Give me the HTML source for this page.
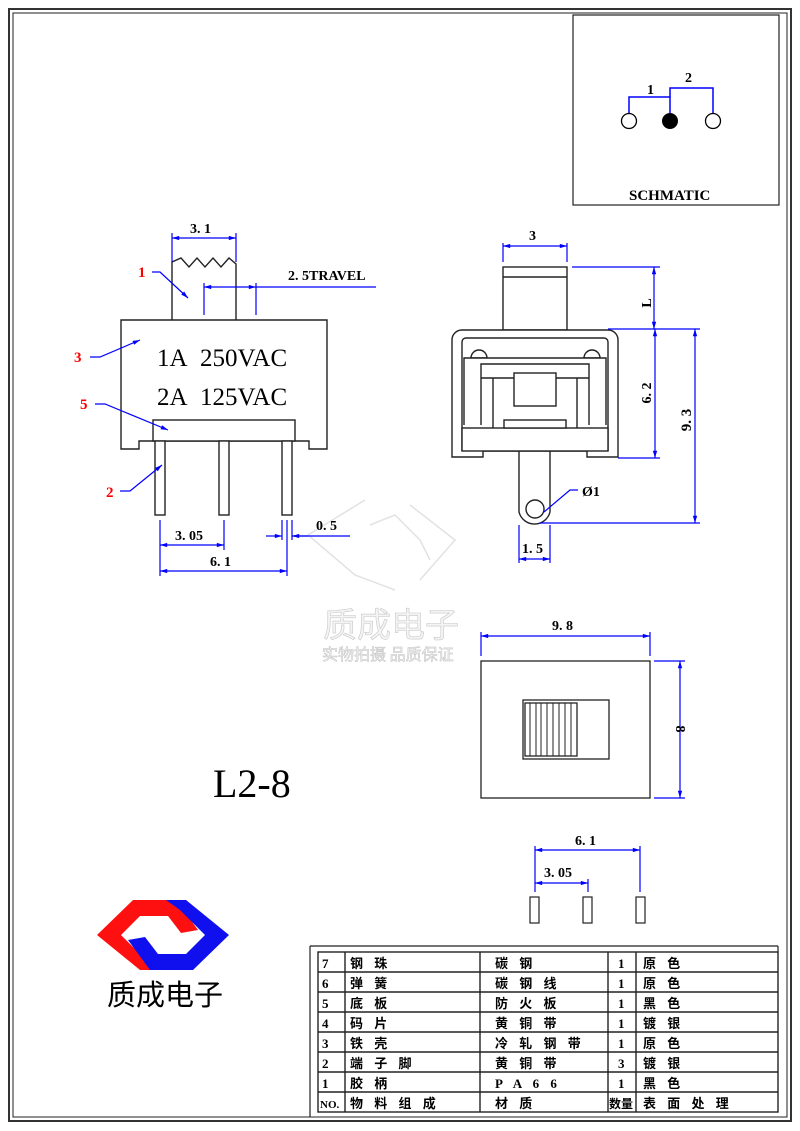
<!DOCTYPE html>
<html><head><meta charset="utf-8"><style>
html,body{margin:0;padding:0;background:#fff;}
svg{display:block;}
.s{font-family:"Liberation Serif","Noto Serif CJK SC",serif;font-weight:bold;}
.c{font-family:"Liberation Serif","Noto Sans CJK SC",serif;font-weight:bold;font-size:13px;}
</style></head><body>
<svg width="800" height="1131" viewBox="0 0 800 1131" xmlns="http://www.w3.org/2000/svg">
<defs>
<marker id="a" viewBox="0 0 10 10" refX="10" refY="5" markerWidth="8" markerHeight="6" orient="auto-start-reverse"><path d="M0,2 L10,5 L0,8z" fill="#0000ff"/></marker>
</defs>
<rect x="0" y="0" width="800" height="1131" fill="#fff"/>
<rect x="9" y="9" width="782" height="1112" fill="none" stroke="#333" stroke-width="2"/>
<rect x="13" y="13" width="774" height="1104" fill="none" stroke="#222" stroke-width="1"/>
<!-- schematic -->
<rect x="573" y="15" width="206" height="190" fill="none" stroke="#222" stroke-width="1.2"/>
<g stroke="#0000ff" stroke-width="1.5" fill="none">
<polyline points="629,113 629,97 670,97 670,113"/><polyline points="670,97 670,88 713,88 713,113"/>
</g>
<circle cx="629" cy="121" r="7.5" fill="#fff" stroke="#000" stroke-width="1.3"/>
<circle cx="670" cy="121" r="8" fill="#000"/>
<circle cx="713" cy="121" r="7.5" fill="#fff" stroke="#000" stroke-width="1.3"/>
<text x="647" y="94" class="s" font-size="14">1</text>
<text x="685" y="82" class="s" font-size="14">2</text>
<text x="629" y="200" class="s" font-size="15">SCHMATIC</text>

<!-- watermark -->
<g stroke="#e2e2e2" stroke-width="1.5" fill="none">
<path d="M365,500 L308,535 L355,575 L395,590"/><path d="M410,505 L455,540 L420,580"/><path d="M370,525 L395,515 L420,540 L430,560"/>
</g>
<text x="323" y="637" font-family="Noto Sans CJK SC,sans-serif" font-size="34" fill="#f4f4f4" stroke="#c8c8c8" stroke-width="0.6">质成电子</text>
<text x="322" y="660" font-family="Noto Sans CJK SC,sans-serif" font-size="16" fill="#f4f4f4" stroke="#c0c0c0" stroke-width="0.5">实物拍摄 品质保证</text>

<!-- left view -->
<g stroke="#222" stroke-width="1.4" fill="#fff">
<polyline points="172,320 172,262 181,258 189,267 197,258 205,267 213,258 221,267 229,258 236,264 236,320"/>
<path d="M121,320 H327 V449 H309 V441 H139 V449 H121 Z"/>
<rect x="153" y="420" width="142" height="21"/>
<rect x="155" y="441" width="10" height="74"/><rect x="219" y="441" width="10" height="74"/><rect x="282" y="441" width="10" height="74"/>
</g>
<text x="157" y="366" font-family="Liberation Serif,serif" font-size="25">1A&#160;&#160;250VAC</text>
<text x="157" y="405" font-family="Liberation Serif,serif" font-size="25">2A&#160;&#160;125VAC</text>
<g stroke="#0000ff" stroke-width="1.2" fill="none">
<line x1="172" y1="233" x2="172" y2="262"/><line x1="236" y1="233" x2="236" y2="262"/>
<line x1="172" y1="238" x2="236" y2="238" marker-start="url(#a)" marker-end="url(#a)"/>
<line x1="204" y1="283" x2="204" y2="315"/><line x1="256" y1="283" x2="256" y2="315"/>
<line x1="204" y1="287" x2="256" y2="287" marker-start="url(#a)" marker-end="url(#a)"/><line x1="256" y1="287" x2="376" y2="287"/>
<line x1="160" y1="520" x2="160" y2="576"/><line x1="224" y1="520" x2="224" y2="550"/><line x1="287" y1="520" x2="287" y2="576"/><line x1="282" y1="520" x2="282" y2="540"/><line x1="292" y1="520" x2="292" y2="540"/>
<line x1="160" y1="545" x2="224" y2="545" marker-start="url(#a)" marker-end="url(#a)"/>
<line x1="160" y1="571" x2="287" y2="571" marker-start="url(#a)" marker-end="url(#a)"/>
<line x1="266" y1="536" x2="282" y2="536" marker-end="url(#a)"/><line x1="308" y1="536" x2="292" y2="536" marker-end="url(#a)"/><line x1="292" y1="536" x2="350" y2="536"/>
<polyline points="152,272 160,272 188,298" marker-end="url(#a)"/>
<polyline points="90,357 100,357 140,340" marker-end="url(#a)"/>
<polyline points="95,404 105,404 168,430" marker-end="url(#a)"/>
<polyline points="120,491 130,491 162,465" marker-end="url(#a)"/>
</g>
<text x="190" y="233" class="s" font-size="14">3. 1</text>
<text x="288" y="280" class="s" font-size="14">2. 5TRAVEL</text>
<text x="175" y="540" class="s" font-size="14">3. 05</text>
<text x="210" y="566" class="s" font-size="14">6. 1</text>
<text x="316" y="530" class="s" font-size="14">0. 5</text>
<g class="s" font-size="15" fill="#f00"><text x="138" y="277">1</text><text x="74" y="362">3</text><text x="80" y="409">5</text><text x="106" y="497">2</text></g>

<!-- right view -->
<g stroke="#222" stroke-width="1.4" fill="#fff">
<rect x="503" y="267" width="64" height="63"/><line x1="503" y1="277" x2="567" y2="277"/>
<path d="M519,450 V512 A16,16 0 0 0 550,512 V450 Z"/>
<circle cx="535" cy="509" r="9"/>
<path d="M462,330 H608 A10,10 0 0 1 618,340 V457 H587 V451 H483 V457 H452 V340 A10,10 0 0 1 462,330 Z"/>
<path d="M462,451 V342 A4,4 0 0 1 466,338 H604 A4,4 0 0 1 608,342 V451"/>
<path d="M471,358 A8,8 0 0 1 487,358 Z"/><path d="M584,358 A8,8 0 0 1 600,358 Z"/>
<polyline points="464,425 464,358 606,358 606,425"/>
<rect x="462" y="428" width="146" height="23"/>
<polyline points="481,425 481,364 589,364 589,425"/>
<line x1="481" y1="378" x2="589" y2="378"/>
<line x1="493" y1="378" x2="493" y2="428"/><line x1="577" y1="378" x2="577" y2="428"/>
<rect x="514" y="373" width="42" height="33"/>
<rect x="504" y="420" width="62" height="8"/>
</g>
<g stroke="#0000ff" stroke-width="1.2" fill="none">
<line x1="503" y1="243" x2="503" y2="262"/><line x1="567" y1="243" x2="567" y2="262"/>
<line x1="503" y1="246" x2="567" y2="246" marker-start="url(#a)" marker-end="url(#a)"/>
<line x1="572" y1="267" x2="660" y2="267"/><line x1="608" y1="329" x2="700" y2="329"/><line x1="618" y1="458" x2="660" y2="458"/><line x1="540" y1="523" x2="700" y2="523"/>
<line x1="654" y1="267" x2="654" y2="329" marker-start="url(#a)" marker-end="url(#a)"/>
<line x1="655" y1="329" x2="655" y2="458" marker-start="url(#a)" marker-end="url(#a)"/>
<line x1="695" y1="329" x2="695" y2="523" marker-start="url(#a)" marker-end="url(#a)"/>
<polyline points="578,490 570,490 544,512"/>
<line x1="519" y1="525" x2="519" y2="563"/><line x1="550" y1="525" x2="550" y2="563"/>
<line x1="519" y1="559" x2="550" y2="559" marker-start="url(#a)" marker-end="url(#a)"/>
</g>
<text x="529" y="240" class="s" font-size="14">3</text>
<text x="582" y="496" class="s" font-size="14">Ø1</text>
<text x="522" y="553" class="s" font-size="14">1. 5</text>
<text transform="translate(651,303) rotate(-90)" class="s" font-size="14" text-anchor="middle">L</text>
<text transform="translate(651,393) rotate(-90)" class="s" font-size="14" text-anchor="middle">6. 2</text>
<text transform="translate(691,420) rotate(-90)" class="s" font-size="15" text-anchor="middle">9. 3</text>

<!-- bottom view -->
<g stroke="#222" stroke-width="1.3" fill="#fff">
<rect x="481" y="661" width="169" height="137"/>
<rect x="523" y="700" width="86" height="59"/>
<rect x="525" y="703" width="52" height="53"/>
</g>
<g stroke="#222" stroke-width="1">
<line x1="530" y1="703" x2="530" y2="756"/><line x1="536" y1="703" x2="536" y2="756"/><line x1="541" y1="703" x2="541" y2="756"/><line x1="547" y1="703" x2="547" y2="756"/><line x1="553" y1="703" x2="553" y2="756"/><line x1="559" y1="703" x2="559" y2="756"/><line x1="565" y1="703" x2="565" y2="756"/><line x1="571" y1="703" x2="571" y2="756"/>
</g>
<g stroke="#0000ff" stroke-width="1.2" fill="none">
<line x1="481" y1="632" x2="481" y2="656"/><line x1="650" y1="632" x2="650" y2="656"/>
<line x1="481" y1="636" x2="650" y2="636" marker-start="url(#a)" marker-end="url(#a)"/>
<line x1="654" y1="661" x2="685" y2="661"/><line x1="654" y1="798" x2="685" y2="798"/>
<line x1="680" y1="661" x2="680" y2="798" marker-start="url(#a)" marker-end="url(#a)"/>
<line x1="535" y1="846" x2="535" y2="892"/><line x1="640" y1="846" x2="640" y2="892"/><line x1="588" y1="879" x2="588" y2="892"/>
<line x1="535" y1="850" x2="640" y2="850" marker-start="url(#a)" marker-end="url(#a)"/>
<line x1="535" y1="883" x2="588" y2="883" marker-start="url(#a)" marker-end="url(#a)"/>
</g>
<text x="552" y="630" class="s" font-size="14">9. 8</text>
<text transform="translate(676,729) rotate(90)" class="s" font-size="14" text-anchor="middle">8</text>
<text x="575" y="845" class="s" font-size="14">6. 1</text>
<text x="544" y="877" class="s" font-size="14">3. 05</text>
<g stroke="#222" stroke-width="1.2" fill="#fff">
<rect x="530" y="897" width="9" height="26"/><rect x="583" y="897" width="9" height="26"/><rect x="636" y="897" width="9" height="26"/>
</g>

<text x="213" y="797" font-family="Liberation Serif,serif" font-size="40">L2-8</text>

<!-- logo -->
<path d="M97,935 L133,900 H176 L198,930 L181,933 L168,916 H140 L121,935 L146,960 L160,970 H140 Z" fill="#ff1010" stroke-linejoin="round"/>
<path d="M229,935 L193,970 H150 L128,940 L145,937 L158,954 H186 L205,935 L180,910 L166,900 H186 Z" fill="#1010ee"/>
<text x="107" y="1005" font-family="Noto Sans CJK SC,sans-serif" font-size="29">质成电子</text>

<!-- table -->
<g stroke="#222" stroke-width="1.4" fill="none">
<rect x="318" y="952" width="460" height="160"/>
<line x1="318" y1="972" x2="778" y2="972"/><line x1="318" y1="992" x2="778" y2="992"/><line x1="318" y1="1012" x2="778" y2="1012"/><line x1="318" y1="1032" x2="778" y2="1032"/><line x1="318" y1="1052" x2="778" y2="1052"/><line x1="318" y1="1072" x2="778" y2="1072"/><line x1="318" y1="1092" x2="778" y2="1092"/>
<line x1="345" y1="952" x2="345" y2="1112"/><line x1="480" y1="952" x2="480" y2="1112"/><line x1="608" y1="952" x2="608" y2="1112"/><line x1="636" y1="952" x2="636" y2="1112"/>
</g>
<line x1="310" y1="946" x2="778" y2="946" stroke="#222" stroke-width="1.2"/>
<line x1="310" y1="946" x2="310" y2="1117" stroke="#222" stroke-width="1.2"/>
<line x1="778" y1="946" x2="778" y2="952" stroke="#222" stroke-width="1.2"/>
<g class="c" letter-spacing="4">
<text x="322" y="968">7</text><text x="350" y="968">钢 珠</text><text x="495" y="968">碳 钢</text><text x="618" y="968">1</text><text x="643" y="968">原 色</text>
<text x="322" y="988">6</text><text x="350" y="988">弹 簧</text><text x="495" y="988">碳 钢 线</text><text x="618" y="988">1</text><text x="643" y="988">原 色</text>
<text x="322" y="1008">5</text><text x="350" y="1008">底 板</text><text x="495" y="1008">防 火 板</text><text x="618" y="1008">1</text><text x="643" y="1008">黑 色</text>
<text x="322" y="1028">4</text><text x="350" y="1028">码 片</text><text x="495" y="1028">黄 铜 带</text><text x="618" y="1028">1</text><text x="643" y="1028">镀 银</text>
<text x="322" y="1048">3</text><text x="350" y="1048">铁 壳</text><text x="495" y="1048">冷 轧 钢 带</text><text x="618" y="1048">1</text><text x="643" y="1048">原 色</text>
<text x="322" y="1068">2</text><text x="350" y="1068">端 子 脚</text><text x="495" y="1068">黄 铜 带</text><text x="618" y="1068">3</text><text x="643" y="1068">镀 银</text>
<text x="322" y="1088">1</text><text x="350" y="1088">胶 柄</text><text x="495" y="1088">P A 6 6</text><text x="618" y="1088">1</text><text x="643" y="1088">黑 色</text>
</g>
<g class="c">
<text x="320" y="1108" font-size="11">NO.</text><text x="350" y="1108" letter-spacing="4">物 料 组 成</text><text x="495" y="1108" letter-spacing="4">材 质</text><text x="609" y="1108" font-size="12">数量</text><text x="643" y="1108" letter-spacing="4">表 面 处 理</text>
</g>
</svg>
</body></html>
